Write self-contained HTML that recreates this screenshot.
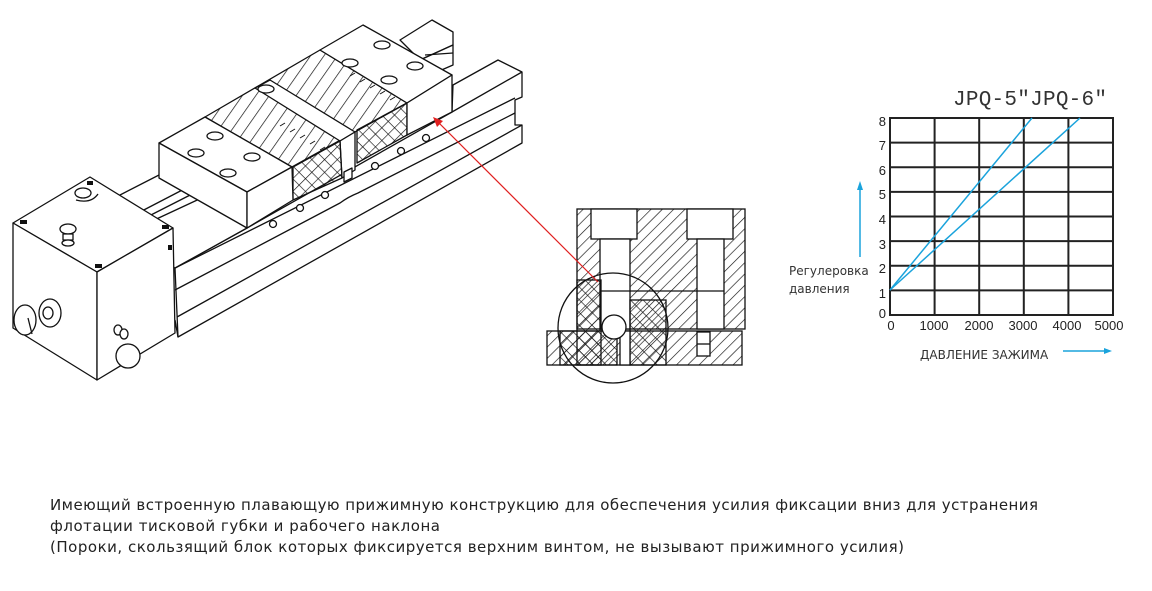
<!DOCTYPE html>
<html><head><meta charset="utf-8"><style>
html,body{margin:0;padding:0;background:#fff;width:1152px;height:591px;overflow:hidden}
</style></head><body>
<svg width="1152" height="591" viewBox="0 0 1152 591" xmlns="http://www.w3.org/2000/svg">
<defs>
<pattern id="h" width="8" height="8" patternUnits="userSpaceOnUse" patternTransform="rotate(45)"><line x1="0" y1="0" x2="0" y2="8" stroke="#111" stroke-width="1.3"/></pattern>
<pattern id="hv" width="11" height="11" patternUnits="userSpaceOnUse" patternTransform="rotate(35)"><line x1="0" y1="0" x2="0" y2="11" stroke="#111" stroke-width="1.4"/></pattern>
<pattern id="x" width="9" height="9" patternUnits="userSpaceOnUse" patternTransform="rotate(45)"><line x1="0" y1="0" x2="0" y2="9" stroke="#111" stroke-width="1.3"/><line x1="0" y1="0" x2="9" y2="0" stroke="#111" stroke-width="1.3"/></pattern>
</defs>
<g fill="none" stroke="#111" stroke-width="1.3" stroke-linejoin="round">
<!-- back rails behind right jaw -->
<polygon points="400,40 432,20 453,32 453,45 420,60" fill="#fff"/>
<polygon points="420,60 453,45 453,65 430,75" fill="#fff"/>
<line x1="425" y1="55" x2="453" y2="53"/>
<!-- body rail -->
<polygon points="453,85 498,60 522,72 522,97 515,100 515,125 522,125 522,143 178,337 175,268 247,228 452,112" fill="#fff"/>
<line x1="522" y1="72" x2="452" y2="112"/>
<line x1="175" y1="268" x2="515" y2="98"/>
<path d="M175,290 L340,203 q8,-6 18,-10 L515,113"/>
<line x1="177" y1="317" x2="522" y2="125"/>
<line x1="175" y1="320" x2="178" y2="337"/>
<!-- slide under front jaw -->
<polygon points="120,195 159,175 247,228 175,268 120,235" fill="#fff"/>
<line x1="138" y1="213" x2="190" y2="186"/><line x1="145" y1="218" x2="200" y2="190"/><line x1="150" y1="222" x2="208" y2="195"/>
<!-- hatched top between blocks -->
<polygon points="205,117 320,50 407,103 292,167" fill="url(#hv)"/>
<!-- moving jaw plate -->
<polygon points="255,88 270,80 355,132 340,141" fill="#fff"/>
<polygon points="340,141 355,132 355,170 342,178" fill="#fff"/>
<polygon points="344,172 352,168 352,178 344,182" fill="#fff"/>
<g stroke-width="1"><line x1="280" y1="126" x2="285" y2="123"/><line x1="290" y1="132" x2="295" y2="129"/><line x1="300" y1="138" x2="305" y2="135"/><line x1="310" y1="144" x2="315" y2="141"/><line x1="320" y1="150" x2="325" y2="147"/>
<line x1="350" y1="76" x2="355" y2="73"/><line x1="360" y1="82" x2="365" y2="79"/><line x1="370" y1="88" x2="375" y2="85"/><line x1="380" y1="94" x2="385" y2="91"/><line x1="390" y1="100" x2="395" y2="97"/></g>
<!-- cross hatched faces -->
<polygon points="293,167 340,141 342,178 293,200" fill="url(#x)"/>
<polygon points="357,130 407,103 407,135 357,163" fill="url(#x)"/>
<!-- right jaw -->
<polygon points="320,50 363,25 452,75 407,103" fill="#fff"/>
<polygon points="407,103 452,75 452,112 407,135" fill="#fff"/>
<!-- front jaw -->
<polygon points="159,143 205,117 292,167 247,192" fill="#fff"/>
<polygon points="159,143 247,192 247,228 159,178" fill="#fff"/>
<polygon points="247,192 292,167 293,200 247,228" fill="#fff"/>
<g fill="#fff"><ellipse cx="196" cy="153" rx="8" ry="4"/><ellipse cx="228" cy="173" rx="8" ry="4"/><ellipse cx="215" cy="136" rx="8" ry="4"/><ellipse cx="252" cy="157" rx="8" ry="4"/>
<ellipse cx="266" cy="89" rx="8" ry="4"/><ellipse cx="350" cy="63" rx="8" ry="4"/><ellipse cx="382" cy="45" rx="8" ry="4"/><ellipse cx="415" cy="66" rx="8" ry="4"/><ellipse cx="389" cy="80" rx="8" ry="4"/>
<circle cx="273" cy="224" r="3.5"/><circle cx="300" cy="208" r="3.5"/><circle cx="325" cy="195" r="3.5"/><circle cx="375" cy="166" r="3.5"/><circle cx="401" cy="151" r="3.5"/><circle cx="426" cy="138" r="3.5"/></g>
<!-- hydraulic box -->
<polygon points="13,223 90,177 173,228 97,272" fill="#fff"/>
<polygon points="13,223 97,272 97,380 13,328" fill="#fff"/>
<polygon points="97,272 173,228 175,333 97,380" fill="#fff"/>
<ellipse cx="83" cy="193" rx="8" ry="5" fill="#fff"/><path d="M76,200 q15,4 22,-6"/>
<ellipse cx="68" cy="229" rx="8" ry="5" fill="#fff"/><rect x="63" y="234" width="10" height="6" fill="#fff"/><ellipse cx="68" cy="243" rx="6" ry="3" fill="#fff"/>
<ellipse cx="25" cy="320" rx="11" ry="15" fill="#fff"/><line x1="28" y1="318" x2="32" y2="334"/>
<ellipse cx="50" cy="313" rx="11" ry="14" fill="#fff"/><ellipse cx="48" cy="313" rx="5" ry="6"/>
<ellipse cx="118" cy="330" rx="4" ry="5"/><ellipse cx="124" cy="334" rx="4" ry="5" fill="#fff"/>
<ellipse cx="128" cy="356" rx="12" ry="12" fill="#fff"/>
</g>
<g fill="#111"><rect x="20" y="220" width="7" height="4"/><rect x="87" y="181" width="6" height="4"/><rect x="162" y="225" width="7" height="4"/><rect x="95" y="264" width="7" height="4"/><rect x="168" y="245" width="4" height="5"/></g>
<!-- cross-section -->
<g stroke="#111" stroke-width="1.3">
<rect x="577" y="209" width="168" height="120" fill="url(#h)"/>
<rect x="547" y="331" width="195" height="34" fill="url(#h)"/>
<rect x="591" y="209" width="46" height="30" fill="#fff"/>
<rect x="600" y="239" width="30" height="90" fill="#fff"/>
<rect x="687" y="209" width="46" height="30" fill="#fff"/>
<rect x="697" y="239" width="27" height="90" fill="#fff"/>
<rect x="577" y="280" width="24" height="85" fill="url(#x)"/>
<rect x="560" y="331" width="57" height="34" fill="url(#x)"/>
<rect x="630" y="300" width="36" height="65" fill="url(#x)"/>
<rect x="620" y="331" width="10" height="34" fill="#fff"/>
<line x1="600" y1="291" x2="724" y2="291"/>
<rect x="697" y="332" width="13" height="24" fill="#fff"/><line x1="697" y1="344" x2="710" y2="344"/>
<circle cx="614" cy="327" r="12" fill="#fff"/>
<circle cx="613" cy="328" r="55" fill="none"/>
</g>
<!-- red leader -->
<line x1="598" y1="282" x2="437" y2="121" stroke="#e02020" stroke-width="1.2"/>
<polygon points="433,117 443,121 437,127" fill="#e02020"/>
<!-- chart -->
<g stroke="#222" stroke-width="2">
<rect x="890" y="118" width="223" height="197" fill="none"/>
<line x1="934.6" y1="118" x2="934.6" y2="315"/><line x1="979.2" y1="118" x2="979.2" y2="315"/><line x1="1023.8" y1="118" x2="1023.8" y2="315"/><line x1="1068.4" y1="118" x2="1068.4" y2="315"/>
<line x1="890" y1="142.6" x2="1113" y2="142.6"/><line x1="890" y1="167.3" x2="1113" y2="167.3"/><line x1="890" y1="191.9" x2="1113" y2="191.9"/><line x1="890" y1="216.5" x2="1113" y2="216.5"/><line x1="890" y1="241.1" x2="1113" y2="241.1"/><line x1="890" y1="265.8" x2="1113" y2="265.8"/><line x1="890" y1="290.4" x2="1113" y2="290.4"/>
</g>
<g stroke="#1aa3dc" stroke-width="1.5"><line x1="890" y1="290" x2="1032" y2="118"/><line x1="890" y1="290" x2="1080" y2="118"/>
<line x1="860" y1="257" x2="860" y2="188"/><line x1="1063" y1="351" x2="1106" y2="351"/></g>
<polygon points="860,181 857,190 863,190" fill="#1aa3dc"/><polygon points="1112,351 1104,348 1104,354" fill="#1aa3dc"/>
<g font-family="Liberation Sans, sans-serif" font-size="13" fill="#222" text-anchor="end">
<text x="886" y="126">8</text><text x="886" y="150">7</text><text x="886" y="175">6</text><text x="886" y="199">5</text><text x="886" y="224">4</text><text x="886" y="249">3</text><text x="886" y="273">2</text><text x="886" y="298">1</text><text x="886" y="318">0</text></g>
<g font-family="Liberation Sans, sans-serif" font-size="13" fill="#222" text-anchor="middle">
<text x="891" y="330">0</text><text x="934" y="330">1000</text><text x="979" y="330">2000</text><text x="1023" y="330">3000</text><text x="1067" y="330">4000</text><text x="1109" y="330">5000</text></g>
<g font-family="DejaVu Sans, sans-serif" font-size="12" fill="#333">
<text x="789" y="275">Регулеровка</text><text x="789" y="293">давления</text>
<text x="920" y="359">ДАВЛЕНИЕ ЗАЖИМА</text></g>
<text x="953" y="105" font-family="Liberation Mono, monospace" font-size="21" fill="#333" textLength="154">JPQ-5″JPQ-6″</text>
<g font-family="DejaVu Sans, sans-serif" font-size="15" fill="#222">
<text x="50" y="510" textLength="988">Имеющий встроенную плавающую прижимную конструкцию для обеспечения усилия фиксации вниз для устранения</text>
<text x="50" y="531" textLength="390">флотации тисковой губки и рабочего наклона</text>
<text x="50" y="552" textLength="854">(Пороки, скользящий блок которых фиксируется верхним винтом, не вызывают прижимного усилия)</text>
</g>
</svg>
</body></html>
